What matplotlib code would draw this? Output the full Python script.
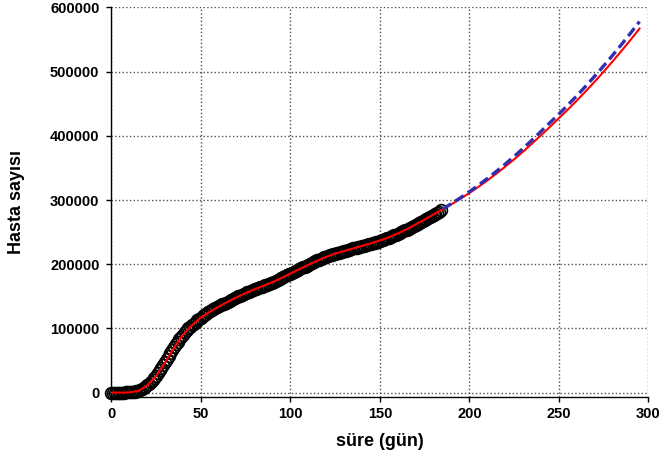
import numpy as np
import matplotlib.pyplot as plt

plt.rcParams['font.family'] = ['Liberation Sans', 'DejaVu Sans']
plt.rcParams['font.weight'] = 'bold'

# observed daily cases (day 0 .. 184)
cases = [
    0, 0, 0, 0, 0, 0, 0, 100, 200, 400,
    700, 1000, 1300, 1700, 2200, 3000, 4200, 5800, 7600, 9500,
    11500, 13700, 16200, 19500, 23000, 26500, 30500, 34500, 39000, 43000,
    47500, 52000, 56500, 61500, 66000, 70500, 75000, 79000, 83000, 87000,
    90500, 94000, 97000, 100000, 102500, 105000, 107500, 110000, 112500, 115000,
    117000, 119000, 121000, 123000, 124800, 126500, 128200, 129800, 131300, 132800,
    134300, 135800, 137300, 138800, 140200, 141600, 143000, 144400, 145800, 147200,
    148500, 149800, 151100, 152400, 153700, 155000, 156200, 157400, 158600, 159800,
    161000, 162000, 163000, 164000, 165000, 166000, 167100, 168200, 169300, 170400,
    171500, 172800, 174100, 175400, 176700, 178000, 179500, 181000, 182500, 184000,
    185500, 186900, 188300, 189700, 191100, 192500, 193800, 195100, 196400, 197700,
    199000, 200400, 201800, 203200, 204600, 206000, 207200, 208400, 209600, 210800,
    212000, 212900, 213800, 214700, 215600, 216500, 217300, 218100, 218900, 219700,
    220500, 221300, 222100, 222900, 223700, 224500, 225200, 225900, 226600, 227300,
    228000, 228800, 229600, 230400, 231200, 232000, 232800, 233600, 234400, 235200,
    236000, 237100, 238200, 239300, 240400, 241500, 242700, 243900, 245100, 246300,
    247500, 248800, 250100, 251400, 252700, 254000, 255500, 257000, 258500, 260000,
    261500, 263000, 264500, 266000, 267500, 269000, 270600, 272200, 273800, 275400,
    277000, 278700, 280400, 282100, 284000,
]
days = np.arange(len(cases))

# model fit (red), every 5 days
fit_days = np.arange(0, 300, 5)
fit_values = [
    0, 0, 300, 2500, 11000, 26000, 47000, 70000, 90000, 105000,
    117000, 126000, 134000, 141500, 148500, 155000, 161000, 166500, 172000, 178500,
    185500, 192500, 199000, 205500, 211500, 216500, 220500, 224500, 228500, 232500,
    237000, 242000, 248000, 254500, 262000, 269500, 277500, 285500, 293500, 302000,
    311000, 320500, 330500, 341000, 352000, 363500, 375500, 388000, 401000, 414000,
    427500, 441000, 455000, 469500, 484500, 500000, 516000, 532500, 549500, 567000,
]

# prediction (blue dashed)
pred_days = np.arange(185, 300, 5)
pred_values = [
    286000, 294500, 303500, 313000, 323000, 333500, 344500, 356000, 368000, 380500,
    393500, 407000, 420500, 434000, 448000, 462500, 477500, 493000, 509000, 525500,
    542500, 560000, 578000,
]

xticks = [0, 50, 100, 150, 200, 250, 300]
yticks = [0, 100000, 200000, 300000, 400000, 500000, 600000]

fig = plt.figure(figsize=(6.59, 4.65), dpi=100)
ax = fig.add_axes([0.169, 0.146, 0.815, 0.838])

ax.plot(days, cases, 'o', mfc='none', mec='black', ms=8.5, mew=1.2,
        clip_on=False, zorder=3)
ax.plot(fit_days, fit_values, color='red', lw=1.5, zorder=4)
ax.plot(pred_days, pred_values, color='#2f2fb0', lw=2.4, ls='--',
        dashes=(3, 1.5), zorder=5)

ax.set_xlim(0, 300)
ax.set_ylim(-7000, 600000)
ax.set_xticks(xticks)
ax.set_xticklabels([str(v) for v in xticks])
ax.set_yticks(yticks)
ax.set_yticklabels([str(v) for v in yticks])
ax.tick_params(direction='out', length=3.6, width=1, labelsize=10.5)
ax.tick_params(axis='y', pad=5)

ax.grid(True, ls=':', color='0.3', lw=1)
ax.set_axisbelow(True)
for s in ['top', 'right']:
    ax.spines[s].set_visible(False)
for s in ['left', 'bottom']:
    ax.spines[s].set_linewidth(1)

ax.set_xlabel('süre (gün)', fontsize=13, fontweight='bold')
ax.set_ylabel('Hasta sayısı', fontsize=13, fontweight='bold')
ax.xaxis.set_label_coords(0.5, -0.093)
ax.yaxis.set_label_coords(-0.16, 0.5)

fig.savefig('out.png', dpi=100)
